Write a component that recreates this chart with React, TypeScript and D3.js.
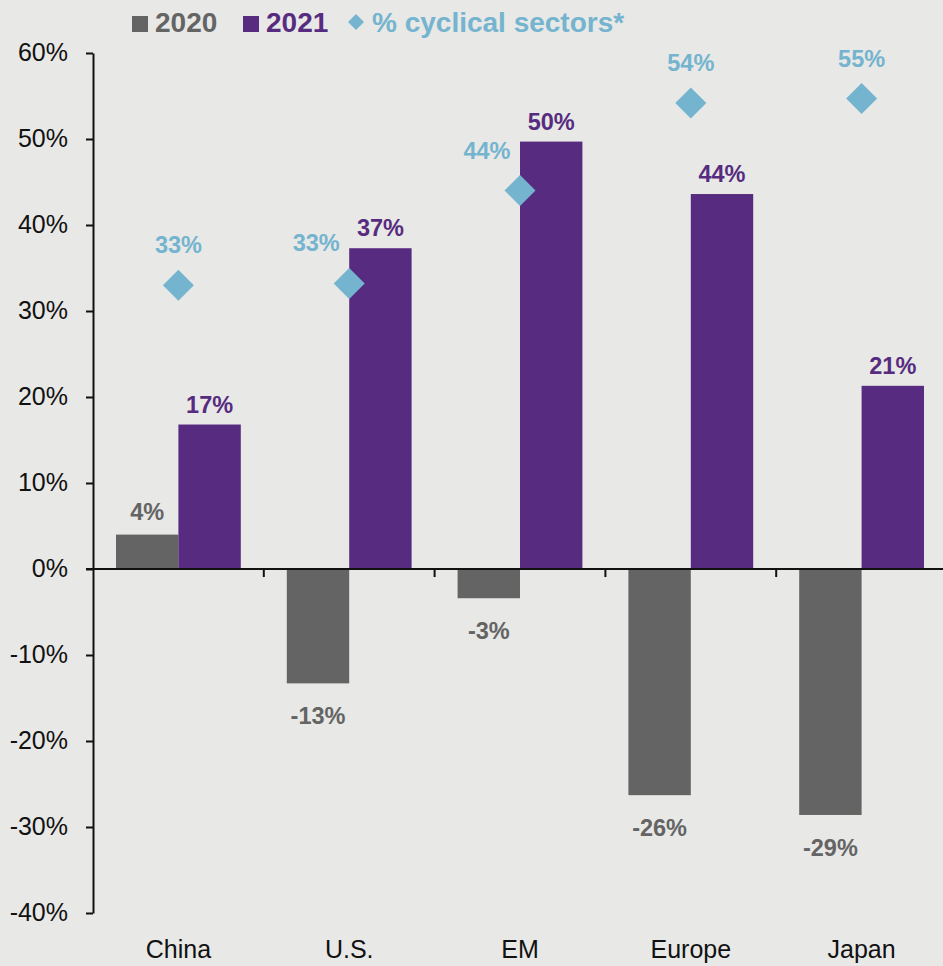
import React, { useEffect, useRef } from 'react';
import * as d3 from 'd3';

const regions = ['China', 'U.S.', 'EM', 'Europe', 'Japan'];
const eps2020 = [4.0, -13.3, -3.4, -26.3, -28.6];
const eps2021 = [16.8, 37.3, 49.7, 43.6, 21.3];
const cyclical = [33.0, 33.2, 44.0, 54.2, 54.7];
const cyclicalLabelSide = ['above', 'left', 'left', 'above', 'above'];
const yTicks = [60, 50, 40, 30, 20, 10, 0, -10, -20, -30, -40];

const GRAY = '#646464';
const PURPLE = '#572c80';
const BLUE = '#74b4cf';
const FONT = '"Liberation Sans", Arial, sans-serif';

const App = () => {
  const svgRef = useRef(null);

  useEffect(() => {
    const width = 943;
    const height = 966;
    const margin = { top: 53, left: 93, right: -4, bottom: 53 };

    const svg = d3.select(svgRef.current)
      .attr('width', width)
      .attr('height', height);
    svg.selectAll('*').remove();

    svg.append('rect')
      .attr('width', width)
      .attr('height', height)
      .attr('fill', '#e8e8e6');

    const x = d3.scaleBand()
      .domain(regions)
      .range([margin.left, width - margin.right])
      .paddingInner(0)
      .paddingOuter(0);

    const y = d3.scaleLinear()
      .domain([-40, 60])
      .range([height - margin.bottom, margin.top]);

    const pad = 23;
    const barW = (x.bandwidth() - pad * 2) / 2;

    // y axis
    const yAxis = svg.append('g')
      .attr('transform', `translate(${margin.left},0)`)
      .call(d3.axisLeft(y).tickValues(yTicks).tickSize(7).tickSizeOuter(0).tickFormat(d => `${d}%`));
    yAxis.select('.domain').attr('stroke', '#111').attr('stroke-width', 2);
    yAxis.selectAll('.tick line').attr('stroke', '#111').attr('stroke-width', 2);
    yAxis.selectAll('.tick text')
      .attr('x', -25)
      .attr('dy', '0.3em')
      .attr('fill', '#111')
      .style('font-family', FONT)
      .style('font-size', '25px');

    const zero = y(0);

    // bars 2020
    svg.append('g').selectAll('rect')
      .data(regions)
      .join('rect')
      .attr('x', d => x(d) + pad)
      .attr('width', barW)
      .attr('y', (d, i) => Math.min(y(eps2020[i]), zero))
      .attr('height', (d, i) => Math.abs(y(eps2020[i]) - zero))
      .attr('fill', GRAY);

    // bars 2021
    svg.append('g').selectAll('rect')
      .data(regions)
      .join('rect')
      .attr('x', d => x(d) + pad + barW)
      .attr('width', barW)
      .attr('y', (d, i) => Math.min(y(eps2021[i]), zero))
      .attr('height', (d, i) => Math.abs(y(eps2021[i]) - zero))
      .attr('fill', PURPLE);

    // zero line + category ticks
    svg.append('line')
      .attr('x1', margin.left - 7)
      .attr('x2', width)
      .attr('y1', zero)
      .attr('y2', zero)
      .attr('stroke', '#111')
      .attr('stroke-width', 2);
    svg.append('g').selectAll('line')
      .data(regions.slice(1))
      .join('line')
      .attr('x1', d => x(d))
      .attr('x2', d => x(d))
      .attr('y1', zero)
      .attr('y2', zero + 8)
      .attr('stroke', '#111')
      .attr('stroke-width', 2);

    // category labels
    svg.append('g').selectAll('text')
      .data(regions)
      .join('text')
      .attr('x', d => x(d) + x.bandwidth() / 2)
      .attr('y', 958)
      .attr('text-anchor', 'middle')
      .attr('fill', '#111')
      .style('font-family', FONT)
      .style('font-size', '25px')
      .text(d => d);

    // value labels
    const labelStyle = sel => sel
      .attr('text-anchor', 'middle')
      .style('font-family', FONT)
      .style('font-size', '23.5px')
      .style('font-weight', 'bold');

    svg.append('g').selectAll('text')
      .data(regions)
      .join('text')
      .attr('x', d => x(d) + pad + barW / 2)
      .attr('y', (d, i) => eps2020[i] >= 0 ? y(eps2020[i]) - 15 : y(eps2020[i]) + 41)
      .attr('fill', GRAY)
      .call(labelStyle)
      .text((d, i) => `${Math.round(eps2020[i])}%`);

    svg.append('g').selectAll('text')
      .data(regions)
      .join('text')
      .attr('x', d => x(d) + pad + barW * 1.5)
      .attr('y', (d, i) => y(eps2021[i]) - 12)
      .attr('fill', PURPLE)
      .call(labelStyle)
      .text((d, i) => `${Math.round(eps2021[i])}%`);

    // cyclical diamonds
    const cx = d => x(d) + x.bandwidth() / 2;
    svg.append('g').selectAll('path')
      .data(regions)
      .join('path')
      .attr('d', (d, i) => {
        const px = cx(d), py = y(cyclical[i]), r = 15.5;
        return `M${px},${py - r}L${px + r},${py}L${px},${py + r}L${px - r},${py}Z`;
      })
      .attr('fill', BLUE);

    svg.append('g').selectAll('text')
      .data(regions)
      .join('text')
      .attr('x', (d, i) => cx(d) - (cyclicalLabelSide[i] === 'left' ? 33 : 0))
      .attr('y', (d, i) => y(cyclical[i]) - 32)
      .attr('fill', BLUE)
      .call(labelStyle)
      .text((d, i) => `${Math.round(cyclical[i])}%`);

    // legend
    const legend = svg.append('g').attr('transform', 'translate(0,32)');
    const items = [
      { label: '2020', color: GRAY, x: 132, shape: 'square' },
      { label: '2021', color: PURPLE, x: 243, shape: 'square' },
      { label: '% cyclical sectors*', color: BLUE, x: 348, shape: 'diamond' },
    ];
    items.forEach(it => {
      if (it.shape === 'square') {
        legend.append('rect')
          .attr('x', it.x)
          .attr('y', -16)
          .attr('width', 16)
          .attr('height', 16)
          .attr('fill', it.color);
      } else {
        legend.append('path')
          .attr('d', `M${it.x + 8},-18L${it.x + 16},-10L${it.x + 8},-2L${it.x},-10Z`)
          .attr('fill', it.color);
      }
      legend.append('text')
        .attr('x', it.x + (it.shape === 'square' ? 23 : 24))
        .attr('y', 0)
        .attr('fill', it.color)
        .style('font-family', FONT)
        .style('font-size', '28px')
        .style('font-weight', 'bold')
        .text(it.label);
    });
  }, []);

  return <svg ref={svgRef} style={{ display: 'block', position: 'absolute', left: 0, top: 0 }}></svg>;
};

export default App;
